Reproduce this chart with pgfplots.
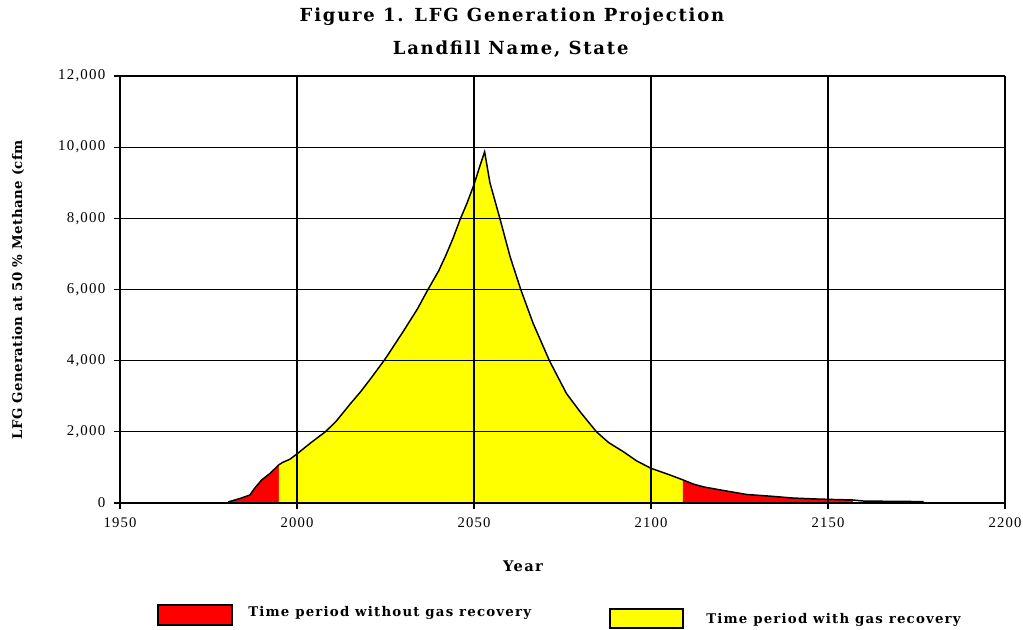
\documentclass[border=0pt]{standalone}
\usepackage{fontspec}
\setmainfont{Liberation Serif}
\newfontfamily\tickfont{Liberation Serif}[LetterSpace=8]
\newfontfamily\ttlfont{DejaVu Serif}[LetterSpace=10]
\newfontfamily\lblfont{DejaVu Serif}[LetterSpace=9]
\newfontfamily\ylblfont{DejaVu Serif}[LetterSpace=3]
\usepackage{pgfplots}
\pgfplotsset{compat=1.18}
\definecolor{fillred}{RGB}{255,0,0}
\definecolor{fillyel}{RGB}{255,255,0}
\begin{document}
\begin{tikzpicture}
\useasboundingbox (-90pt,-95.25pt) rectangle (677.25pt,377.25pt);
\begin{axis}[
  at={(0,0)}, anchor=south west,
  scale only axis, width=663.75pt, height=320.25pt,
  xmin=1950, xmax=2200, ymin=0, ymax=12000,
  xtick={1950,2000,...,2200}, ytick={0,2000,...,12000},
  axis lines*=left,
  axis on top,
  grid=major,
  major grid style={black, line width=0.8pt},
  axis line style={black, line width=1pt},
  tick style={black, line width=0.8pt},
  tick align=center, major tick length=9pt,
  /pgf/number format/assume math mode=true,
  scaled y ticks=false,
  yticklabel style={font=\tickfont\fontsize{11.2}{13}\selectfont, /pgf/number format/1000 sep={,}, xshift=-3pt},
  xticklabel style={font=\tickfont\fontsize{11}{13}\selectfont, /pgf/number format/1000 sep={}, yshift=-3pt},
]
\addplot[fill=fillred, draw=none] coordinates {
(1980.6,30) (1984,130) (1986.7,225) (1988,410) (1990,646) (1992.4,834) (1994.9,1075)
} \closedcycle;
\addplot[fill=fillyel, draw=none] coordinates {
(1994.9,1075) (1996,1143) (1998,1230) (2000,1380) (2004,1700) (2008,2000) (2011,2290)
(2015,2780) (2018,3130) (2021,3520) (2025,4060) (2030,4820) (2034,5450) (2037,6000)
(2040,6520) (2042,6950) (2044,7420) (2046,7950) (2048,8420) (2050,8950) (2051.6,9450) (2053,9870) (2054.5,9000)
(2057.3,8000) (2060.2,6920) (2063.2,6000) (2066.7,5050) (2071.3,4000) (2076.1,3080)
(2080,2560) (2084.6,2000) (2088,1700) (2092.2,1440) (2096,1180) (2100,975) (2105,800) (2109,650)
} \closedcycle;
\addplot[fill=fillred, draw=none] coordinates {
(2109,650) (2112,530) (2115,450) (2120,360) (2127,240) (2134,190) (2140,140) (2146,115) (2151,100) (2157,85)
} \closedcycle;
\addplot[black, line width=1.1pt] coordinates {
(1980.6,30) (1984,130) (1986.7,225) (1988,410) (1990,646) (1992.4,834) (1994.9,1075)
(1996,1143) (1998,1230) (2000,1380) (2004,1700) (2008,2000) (2011,2290)
(2015,2780) (2018,3130) (2021,3520) (2025,4060) (2030,4820) (2034,5450) (2037,6000)
(2040,6520) (2042,6950) (2044,7420) (2046,7950) (2048,8420) (2050,8950) (2051.6,9450) (2053,9870) (2054.5,9000)
(2057.3,8000) (2060.2,6920) (2063.2,6000) (2066.7,5050) (2071.3,4000) (2076.1,3080)
(2080,2560) (2084.6,2000) (2088,1700) (2092.2,1440) (2096,1180) (2100,975) (2105,800) (2109,650)
(2112,530) (2115,450) (2120,360) (2127,240) (2134,190) (2140,140) (2146,115) (2151,100) (2157,85)
(2160,55) (2170,45) (2177,40)
};
\end{axis}
\node[font=\ttlfont\bfseries\fontsize{13.5}{16}\selectfont] at (294pt,364.5pt) {Figure 1. LFG Generation Projection};
\node[font=\ttlfont\bfseries\fontsize{13.5}{16}\selectfont] at (293pt,340.5pt) {Landfill Name, State};
\node[font=\lblfont\bfseries\fontsize{11}{13}\selectfont] at (302.25pt,-47.25pt) {Year};
\node[font=\ylblfont\bfseries\fontsize{10}{12}\selectfont, rotate=90] at (-76.5pt,159.75pt) {LFG Generation at 50 \% Methane (cfm};
\draw[black, line width=0.8pt, fill=fillred] (28.5pt,-76.5pt) rectangle (84pt,-91.5pt);
\node[font=\lblfont\bfseries\fontsize{10}{12}\selectfont, anchor=west, inner sep=0pt] at (96pt,-82.5pt) {Time period without gas recovery};
\draw[black, line width=0.8pt, fill=fillyel] (367.5pt,-79.5pt) rectangle (422.25pt,-93.75pt);
\node[font=\lblfont\bfseries\fontsize{10}{12}\selectfont, anchor=west, inner sep=0pt] at (439.5pt,-87.75pt) {Time period with gas recovery};
\end{tikzpicture}
\end{document}
